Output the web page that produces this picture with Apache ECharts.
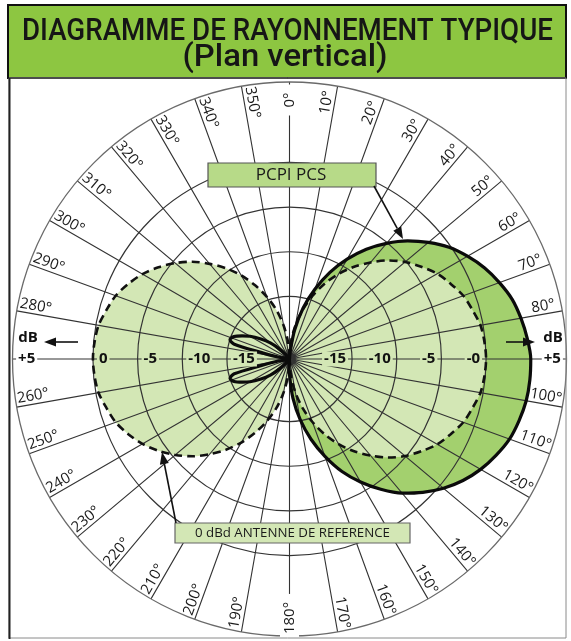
<!DOCTYPE html>
<html><head><meta charset="utf-8">
<script src="https://cdn.jsdelivr.net/npm/echarts@6/dist/echarts.min.js"></script>
<style>html,body{margin:0;padding:0;background:#fff}#c{width:571px;height:641px}</style>
</head><body><div id="c"></div>
<script>
// ---------- DATA ----------
const titleLine1 = 'DIAGRAMME DE RAYONNEMENT TYPIQUE';
const titleLine2 = '(Plan vertical)';
const pcsLabel = 'PCPI PCS';
const refLabel = '0 dBd ANTENNE DE REFERENCE';

// angle ticks (degrees) and their labels
const angleLabelAngles = [0,10,20,30,40,50,60,70,80,100,110,120,130,140,150,160,170,180,
  190,200,210,220,230,240,250,260,280,290,300,310,320,330,340,350];
const angleLabelTexts = angleLabelAngles.map(a => a + '°');

// dB rings and scale labels
const dbRingValues = [-15, -10, -5, 0];
const dbLabelValues = [-15, -10, -5, 0, 5];
const dbLabelsRight = ['-15', '-10', '-5', '-0', '+5'];
const dbLabelsLeft = ['-15', '-10', '-5', '0', '+5'];

// PCPI PCS pattern (dB)
const pcsAngles = [0,5,10,15,20,25,30,35,40,45,50,55,60,65,70,75,80,85,90,95,
  100,105,110,115,120,125,130,135,140,145,150,155,160,165,170,175,180,185,190,
  215,220,225,230,235,240,244,248,252,255,257,260,265,
  275,280,283,285,288,292,296,300,305,310,315,320,325,360];
const pcsValues = [-22,-21.2,-18.7,-16.1,-13.7,-11.3,-9.1,-7.0,-5.1,-3.3,-1.7,-0.2,1.0,2.1,3.0,3.8,4.3,4.7,5.0,5.0,
  4.9,4.6,4.2,3.5,2.7,1.7,0.5,-0.9,-2.4,-4.2,-6.1,-8.1,-10.4,-12.7,-15.1,-17.6,-20.2,-21.5,-22,
  -22,-21.4,-20.4,-19.2,-18.1,-16.9,-16.1,-15.3,-15.0,-15.6,-18.7,-20.7,-22,
  -22,-20.7,-18.7,-15.6,-15.0,-15.3,-16.1,-16.9,-18.1,-19.2,-20.4,-21.4,-22,-22];

// 0 dBd reference antenna pattern (dB), every 5 degrees from 0 to 360
const refAngles = [0,5,10,15,20,25,30,35,40,45,50,55,60,65,70,75,80,85,90,
  95,100,105,110,115,120,125,130,135,140,145,150,155,160,165,170,175,180,
  185,190,195,200,205,210,215,220,225,230,235,240,245,250,255,260,265,270,
  275,280,285,290,295,300,305,310,315,320,325,330,335,340,345,350,355,360];
const refValues = [-22,-20.1,-18.2,-16.3,-14.5,-12.7,-11.0,-9.4,-7.9,-6.4,-5.1,-4.0,-2.9,-2.1,-1.3,-0.8,-0.3,-0.1,0,
  -0.1,-0.3,-0.8,-1.3,-2.1,-2.9,-4.0,-5.1,-6.4,-7.9,-9.4,-11.0,-12.7,-14.5,-16.3,-18.2,-20.1,-22,
  -20.1,-18.2,-16.3,-14.6,-12.9,-11.2,-9.6,-8.1,-6.6,-5.3,-4.1,-3.0,-2.1,-1.3,-0.8,-0.3,-0.1,0,
  -0.1,-0.3,-0.8,-1.3,-2.1,-3.0,-4.1,-5.3,-6.6,-8.1,-9.6,-11.2,-12.9,-14.6,-16.3,-18.2,-20.1,-22];

// ---------- CHART ----------
const RMIN = -22, RMAX = 9;
const GRID = '#333';
const PCS_FILL = '#a3d06e';
const REF_FILL = '#d3e7b5';

const pcsData = pcsAngles.map((a, i) => [pcsValues[i], a]);
const refData = refAngles.map((a, i) => [refValues[i], a]);

function measure(text, font) {
  const ctx = document.createElement('canvas').getContext('2d');
  ctx.font = font;
  return ctx.measureText(text).width;
}
const F1 = '500 31px Roboto';
const s1 = 531 / measure(titleLine1, F1);
const s2 = 205 / measure(titleLine2, F1);
const F3 = '12.5px "Open Sans"';
const s3 = 195 / measure(refLabel, F3);

function arrow(x1, y1, x2, y2, z) {
  const dx = x2 - x1, dy = y2 - y1, L = Math.hypot(dx, dy);
  const ux = dx / L, uy = dy / L, hl = 12, hw = 4.5;
  const bx = x2 - ux * hl, by = y2 - uy * hl;
  return [
    {type: 'line', z, shape: {x1, y1, x2: bx, y2: by}, style: {stroke: '#111', lineWidth: 1.6}},
    {type: 'polygon', z, shape: {points: [[x2, y2], [bx - uy * hw, by + ux * hw], [bx + uy * hw, by - ux * hw]]}, style: {fill: '#111'}}
  ];
}

function ringItem(params, api) {
  const c = api.coord([RMIN, 0]);
  const p = api.coord([api.value(0), 90]);
  const r = Math.hypot(p[0] - c[0], p[1] - c[1]);
  return {type: 'circle', shape: {cx: c[0], cy: c[1], r}, style: {fill: 'none', stroke: GRID, lineWidth: 1.2}};
}

function angleLabelItem(params, api) {
  const a = api.value(1);
  const c = api.coord([RMIN, a]);
  const e = api.coord([RMAX, a]);
  const dx = e[0] - c[0], dy = e[1] - c[1], L = Math.hypot(dx, dy);
  const rl = 259;
  let x = c[0] + dx / L * rl, y = c[1] + dy / L * rl;
  const alpha = (a < 180 ? 90 - a : 270 - a) * Math.PI / 180;
  const onLine = (a === 0 || a === 180);
  const off = onLine ? 0 : 8;
  x += -Math.sin(alpha) * off;
  y += -Math.cos(alpha) * off;
  return {
    type: 'text', x, y, rotation: alpha,
    style: {
      text: angleLabelTexts[params.dataIndex], fontSize: 15, fontFamily: 'Open Sans',
      fill: '#1a1a1a', align: 'center', verticalAlign: 'middle', textAlign: 'center', textVerticalAlign: 'middle',
      backgroundColor: onLine ? '#fff' : 'transparent', padding: onLine ? [2, 8] : 0
    }
  };
}

function dbLabelItem(side, texts) {
  return function (params, api) {
    const v = api.value(0);
    const a = side === 'right' ? 90 : 270;
    const c = api.coord([RMIN, a]);
    const p = api.coord([v, a]);
    const rr = Math.hypot(p[0] - c[0], p[1] - c[1]);
    const sg = side === 'right' ? 1 : -1;
    let x, align;
    if (v > 0) { x = c[0] + sg * (rr + 11); align = side === 'right' ? 'left' : 'right'; }
    else { x = c[0] + sg * (rr - 4); align = side === 'right' ? 'right' : 'left'; }
    return {
      type: 'text', x, y: c[1],
      style: {
        text: texts[params.dataIndex], fontSize: 15, fontWeight: 'bold', fontFamily: 'Open Sans',
        fill: '#111', align, verticalAlign: 'middle', textAlign: align, textVerticalAlign: 'middle',
        backgroundColor: v > 0 ? '#fff' : REF_FILL, padding: [0, 2]
      }
    };
  };
}

const chart = echarts.init(document.getElementById('c'), null, {renderer: 'canvas'});
chart.setOption({
  backgroundColor: '#fff',
  animation: false,
  polar: {center: [289.5, 359], radius: 277},
  angleAxis: {
    type: 'value', min: 0, max: 360, interval: 10, startAngle: 90, clockwise: true, z: 3,
    axisLabel: {show: false}, axisTick: {show: false},
    axisLine: {show: true, lineStyle: {color: '#6a6a6a', width: 1.3}},
    splitLine: {show: true, lineStyle: {color: GRID, width: 1.1}}
  },
  radiusAxis: {
    type: 'value', min: RMIN, max: RMAX, z: 3,
    axisLine: {show: false}, axisTick: {show: false}, axisLabel: {show: false}, splitLine: {show: false}
  },
  series: [
    {type: 'line', coordinateSystem: 'polar', data: pcsData, smooth: 0.3, showSymbol: false, silent: true,
      lineStyle: {opacity: 0}, areaStyle: {color: PCS_FILL, opacity: 1, origin: 'start'}, z: 1},
    {type: 'line', coordinateSystem: 'polar', data: refData, smooth: 0.3, showSymbol: false, silent: true,
      lineStyle: {opacity: 0}, areaStyle: {color: REF_FILL, opacity: 1, origin: 'start'}, z: 2},
    {type: 'custom', coordinateSystem: 'polar', renderItem: ringItem, silent: true, z: 3,
      encode: {radius: 0, angle: 1}, data: dbRingValues.map(v => [v, 0])},
    {type: 'line', coordinateSystem: 'polar', data: refData, smooth: 0.3, showSymbol: false, silent: true,
      lineStyle: {color: '#111', width: 2.6, type: [8, 5]}, z: 5},
    {type: 'line', coordinateSystem: 'polar', data: pcsData, smooth: 0.3, showSymbol: false, silent: true,
      lineStyle: {color: '#0b0b0b', width: 3.2}, z: 6},
    {type: 'custom', coordinateSystem: 'polar', renderItem: angleLabelItem, silent: true, z: 8,
      encode: {radius: 0, angle: 1}, data: angleLabelAngles.map(a => [0, a])},
    {type: 'custom', coordinateSystem: 'polar', renderItem: dbLabelItem('right', dbLabelsRight), silent: true, z: 8,
      encode: {radius: 0, angle: 1}, data: dbLabelValues.map(v => [v, 90])},
    {type: 'custom', coordinateSystem: 'polar', renderItem: dbLabelItem('left', dbLabelsLeft), silent: true, z: 8,
      encode: {radius: 0, angle: 1}, data: dbLabelValues.map(v => [v, 270])}
  ],
  graphic: [
    {type: 'rect', z: 10, shape: {x: 8, y: 5, width: 558, height: 73}, style: {fill: '#8dc641', stroke: '#111', lineWidth: 2}},
    {type: 'text', z: 11, x: 287.5, y: 32, scaleX: s1,
      style: {text: titleLine1, font: F1, fill: '#161616', align: 'center', verticalAlign: 'middle', textAlign: 'center', textVerticalAlign: 'middle'}},
    {type: 'text', z: 11, x: 285, y: 58, scaleX: s2,
      style: {text: titleLine2, font: F1, fill: '#161616', align: 'center', verticalAlign: 'middle', textAlign: 'center', textVerticalAlign: 'middle'}},
    {type: 'rect', z: 10, shape: {x: 9, y: 78, width: 557, height: 560}, style: {fill: 'none', stroke: '#8a8a8a', lineWidth: 1}},
    {type: 'line', z: 10, shape: {x1: 9.5, y1: 78, x2: 9.5, y2: 639}, style: {stroke: '#222', lineWidth: 2}},
    // PCPI PCS annotation
    {type: 'rect', z: 10, shape: {x: 208, y: 163, width: 168, height: 24}, style: {fill: '#b7da88', stroke: '#555', lineWidth: 1.2}},
    {type: 'text', z: 11, x: 291, y: 175.5,
      style: {text: pcsLabel, font: '500 17px "Open Sans"', fill: '#1a1a1a', align: 'center', verticalAlign: 'middle', textAlign: 'center', textVerticalAlign: 'middle'}},
    ...arrow(374, 186, 403, 239, 10),
    // reference antenna annotation
    {type: 'rect', z: 10, shape: {x: 175, y: 523, width: 235, height: 20}, style: {fill: REF_FILL, stroke: '#666', lineWidth: 1.2}},
    {type: 'text', z: 11, x: 292.5, y: 533.5, scaleX: s3,
      style: {text: refLabel, font: F3, fill: '#1a1a1a', align: 'center', verticalAlign: 'middle', textAlign: 'center', textVerticalAlign: 'middle'}},
    ...arrow(176, 523, 162, 452, 10),
    // dB arrows
    {type: 'text', z: 11, x: 28, y: 338,
      style: {text: 'dB', font: 'bold 15px "Open Sans"', fill: '#111', align: 'center', verticalAlign: 'middle', textAlign: 'center', textVerticalAlign: 'middle'}},
    ...arrow(78, 342, 44, 342, 10),
    {type: 'text', z: 11, x: 553, y: 338,
      style: {text: 'dB', font: 'bold 15px "Open Sans"', fill: '#111', align: 'center', verticalAlign: 'middle', textAlign: 'center', textVerticalAlign: 'middle'}},
    ...arrow(506, 342, 535, 342, 10)
  ]
});
</script></body></html>
